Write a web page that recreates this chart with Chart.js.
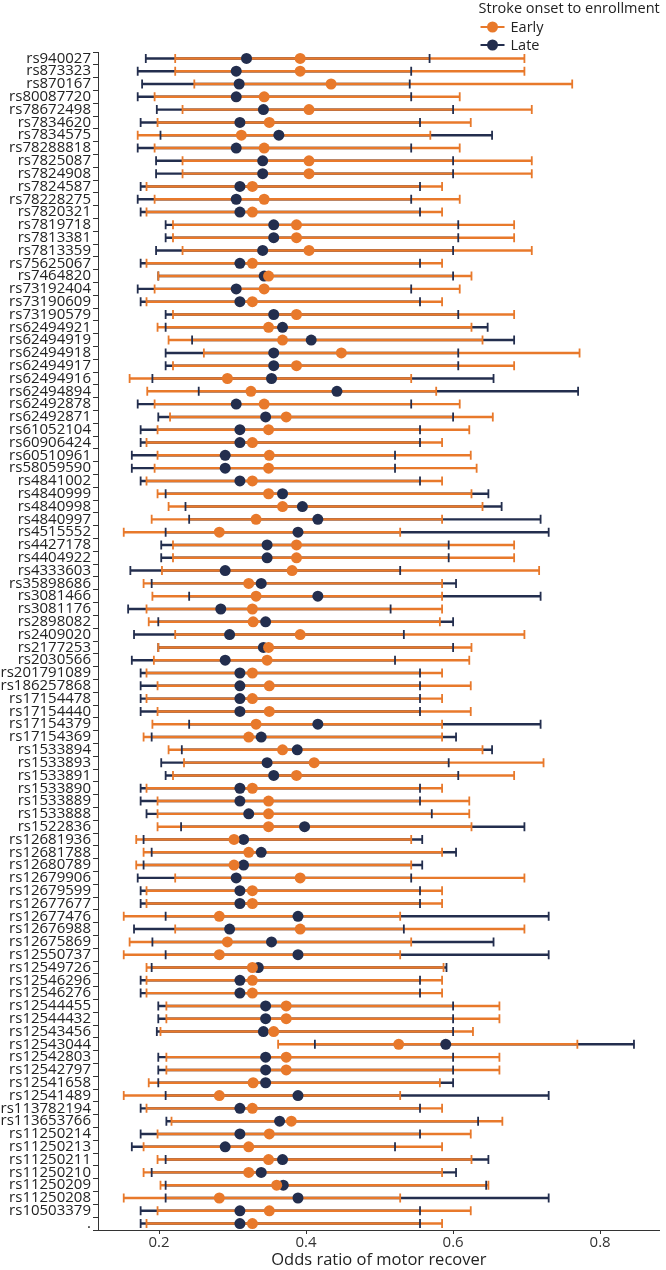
<!DOCTYPE html>
<html>
<head>
<meta charset="utf-8">
<script src="https://cdn.jsdelivr.net/npm/chart.js@4/dist/chart.umd.min.js"></script>
<style>
html,body{margin:0;padding:0;background:#fff;}
#wrap{position:relative;width:666px;height:1270px;}
</style>
</head>
<body>
<div id="wrap"><canvas id="c"></canvas></div>
<script>
const snps = ["rs940027","rs873323","rs870167","rs80087720","rs78672498","rs7834620","rs7834575","rs78288818","rs7825087","rs7824908","rs7824587","rs78228275","rs7820321","rs7819718","rs7813381","rs7813359","rs75625067","rs7464820","rs73192404","rs73190609","rs73190579","rs62494921","rs62494919","rs62494918","rs62494917","rs62494916","rs62494894","rs62492878","rs62492871","rs61052104","rs60906424","rs60510961","rs58059590","rs4841002","rs4840999","rs4840998","rs4840997","rs4515552","rs4427178","rs4404922","rs4333603","rs35898686","rs3081466","rs3081176","rs2898082","rs2409020","rs2177253","rs2030566","rs201791089","rs186257868","rs17154478","rs17154440","rs17154379","rs17154369","rs1533894","rs1533893","rs1533891","rs1533890","rs1533889","rs1533888","rs1522836","rs12681936","rs12681788","rs12680789","rs12679906","rs12679599","rs12677677","rs12677476","rs12676988","rs12675869","rs12550737","rs12549726","rs12546296","rs12546276","rs12544455","rs12544432","rs12543456","rs12543044","rs12542803","rs12542797","rs12541658","rs12541489","rs113782194","rs113653766","rs11250214","rs11250213","rs11250211","rs11250210","rs11250209","rs11250208","rs10503379","."];

const earlyLo = [0.222,0.222,0.248,0.194,0.232,0.198,0.171,0.194,0.232,0.232,0.183,0.194,0.183,0.219,0.219,0.232,0.183,0.199,0.194,0.183,0.219,0.198,0.213,0.261,0.219,0.160,0.184,0.194,0.215,0.198,0.183,0.198,0.194,0.183,0.198,0.213,0.190,0.152,0.219,0.219,0.204,0.179,0.191,0.183,0.186,0.222,0.199,0.193,0.183,0.198,0.183,0.198,0.191,0.179,0.213,0.234,0.219,0.183,0.198,0.198,0.198,0.169,0.179,0.169,0.222,0.183,0.183,0.152,0.222,0.160,0.152,0.183,0.183,0.183,0.210,0.210,0.202,0.362,0.210,0.210,0.186,0.152,0.183,0.217,0.198,0.179,0.198,0.179,0.202,0.152,0.198,0.183];
const earlyOR = [0.392,0.392,0.434,0.343,0.404,0.350,0.312,0.343,0.404,0.404,0.327,0.343,0.327,0.387,0.387,0.404,0.327,0.349,0.343,0.327,0.387,0.349,0.368,0.448,0.387,0.293,0.325,0.343,0.373,0.349,0.327,0.350,0.349,0.327,0.349,0.368,0.332,0.282,0.387,0.387,0.381,0.322,0.332,0.327,0.328,0.392,0.349,0.347,0.327,0.350,0.327,0.350,0.332,0.322,0.368,0.411,0.387,0.327,0.349,0.349,0.349,0.302,0.322,0.302,0.392,0.327,0.327,0.282,0.392,0.293,0.282,0.327,0.327,0.327,0.373,0.373,0.356,0.526,0.373,0.373,0.328,0.282,0.327,0.380,0.350,0.322,0.349,0.322,0.360,0.282,0.350,0.327];
const earlyHi = [0.697,0.697,0.762,0.609,0.707,0.624,0.569,0.609,0.707,0.707,0.585,0.609,0.585,0.683,0.683,0.707,0.585,0.625,0.609,0.585,0.683,0.625,0.640,0.772,0.683,0.543,0.577,0.609,0.654,0.622,0.585,0.624,0.632,0.585,0.625,0.640,0.585,0.528,0.683,0.683,0.717,0.585,0.585,0.585,0.582,0.697,0.625,0.622,0.585,0.624,0.585,0.624,0.585,0.585,0.640,0.723,0.683,0.585,0.622,0.622,0.625,0.543,0.585,0.543,0.697,0.585,0.585,0.528,0.697,0.543,0.528,0.587,0.585,0.585,0.663,0.663,0.627,0.769,0.663,0.663,0.582,0.528,0.585,0.667,0.624,0.585,0.625,0.585,0.648,0.528,0.624,0.585];

const lateLo = [0.182,0.171,0.177,0.171,0.197,0.175,0.202,0.171,0.196,0.196,0.175,0.171,0.175,0.209,0.209,0.196,0.175,0.199,0.171,0.175,0.209,0.209,0.245,0.209,0.209,0.191,0.254,0.171,0.199,0.175,0.175,0.163,0.163,0.175,0.209,0.236,0.241,0.209,0.203,0.203,0.161,0.190,0.241,0.158,0.199,0.166,0.199,0.163,0.175,0.175,0.175,0.175,0.241,0.190,0.231,0.203,0.209,0.175,0.175,0.183,0.230,0.179,0.190,0.179,0.171,0.175,0.175,0.209,0.166,0.191,0.209,0.190,0.175,0.175,0.199,0.199,0.197,0.412,0.199,0.199,0.199,0.209,0.175,0.210,0.175,0.163,0.209,0.190,0.209,0.209,0.175,0.175];
const lateOR = [0.319,0.305,0.309,0.305,0.342,0.310,0.363,0.305,0.341,0.341,0.310,0.305,0.310,0.356,0.356,0.341,0.310,0.343,0.305,0.310,0.356,0.368,0.407,0.356,0.356,0.353,0.442,0.305,0.345,0.310,0.310,0.290,0.290,0.310,0.368,0.395,0.416,0.389,0.347,0.347,0.290,0.339,0.416,0.284,0.345,0.296,0.342,0.290,0.310,0.310,0.310,0.310,0.416,0.339,0.388,0.347,0.356,0.310,0.310,0.322,0.398,0.315,0.339,0.315,0.305,0.310,0.310,0.389,0.296,0.353,0.389,0.335,0.310,0.310,0.345,0.345,0.342,0.590,0.345,0.345,0.345,0.389,0.310,0.364,0.310,0.290,0.368,0.339,0.369,0.389,0.310,0.310];
const lateHi = [0.568,0.543,0.541,0.543,0.600,0.555,0.653,0.543,0.600,0.600,0.555,0.543,0.555,0.607,0.607,0.600,0.555,0.600,0.543,0.555,0.607,0.647,0.683,0.607,0.607,0.655,0.770,0.543,0.600,0.555,0.555,0.521,0.521,0.555,0.648,0.666,0.719,0.730,0.594,0.594,0.528,0.604,0.719,0.515,0.600,0.533,0.600,0.521,0.555,0.555,0.555,0.555,0.719,0.604,0.653,0.594,0.607,0.555,0.555,0.571,0.697,0.558,0.604,0.558,0.543,0.555,0.555,0.730,0.533,0.655,0.730,0.591,0.555,0.555,0.600,0.600,0.600,0.846,0.600,0.600,0.600,0.730,0.555,0.634,0.555,0.521,0.648,0.604,0.645,0.730,0.555,0.555];

const xTicks = [0.2, 0.4, 0.6, 0.8];
const seriesNames = ["Early", "Late"];
const legendTitle = "Stroke onset to enrollment";
const xTitle = "Odds ratio of motor recover";

const ORANGE = "#E8792B";
const NAVY = "#232E4E";
const FONT = "'Open Sans', 'Noto Sans', sans-serif";

const pts = (vals) => vals.map((v, i) => ({x: v, y: snps[i]}));
const caps = (lo, hi) => pts(lo).concat(pts(hi));

const legendPlugin = {
  id: 'topLegend',
  afterDraw(chart) {
    const ctx = chart.ctx;
    const ca = chart.chartArea;
    ctx.save();
    ctx.font = "14.5px " + FONT;
    ctx.fillStyle = "#222";
    ctx.textBaseline = "middle";
    const w = ctx.measureText(legendTitle).width;
    const left = ca.right - w;
    ctx.fillText(legendTitle, left, 9);
    const items = [[seriesNames[0], ORANGE, 27], [seriesNames[1], NAVY, 45]];
    ctx.font = "14.5px " + FONT;
    items.forEach(([name, col, y]) => {
      ctx.strokeStyle = col; ctx.lineWidth = 2;
      ctx.beginPath(); ctx.moveTo(left + 2, y); ctx.lineTo(left + 26, y); ctx.stroke();
      ctx.fillStyle = col;
      ctx.beginPath(); ctx.arc(left + 14, y, 5.5, 0, Math.PI * 2); ctx.fill();
      ctx.fillStyle = "#222";
      ctx.fillText(name, left + 32, y + 1);
    });
    ctx.restore();
  }
};

new Chart(document.getElementById('c'), {
  type: 'bar',
  data: {
    labels: snps,
    datasets: [
      {type: 'bar', label: 'Late CI', data: lateLo.map((v, i) => [v, lateHi[i]]), backgroundColor: NAVY, barThickness: 1.8, grouped: false, order: 6},
      {type: 'bar', label: 'Early CI', data: earlyLo.map((v, i) => [v, earlyHi[i]]), backgroundColor: ORANGE, barThickness: 1.8, grouped: false, order: 5},
      {type: 'scatter', label: 'Late caps', data: caps(lateLo, lateHi), pointStyle: 'line', rotation: 90, pointRadius: 4.5, borderColor: NAVY, borderWidth: 1.8, order: 4},
      {type: 'scatter', label: 'Early caps', data: caps(earlyLo, earlyHi), pointStyle: 'line', rotation: 90, pointRadius: 4.5, borderColor: ORANGE, borderWidth: 1.8, order: 3},
      {type: 'scatter', label: 'Late', data: pts(lateOR), pointStyle: 'circle', pointRadius: 5.5, backgroundColor: NAVY, borderColor: NAVY, borderWidth: 0, order: 2},
      {type: 'scatter', label: 'Early', data: pts(earlyOR), pointStyle: 'circle', pointRadius: 5.5, backgroundColor: ORANGE, borderColor: ORANGE, borderWidth: 0, order: 1}
    ]
  },
  options: {
    indexAxis: 'y',
    responsive: true,
    maintainAspectRatio: false,
    animation: false,
    events: [],
    layout: {padding: {top: 52, right: 5, left: 0, bottom: 0}},
    plugins: {legend: {display: false}, tooltip: {enabled: false}},
    scales: {
      x: {
        type: 'linear', position: 'bottom', min: 0.117, max: 0.881,
        afterBuildTicks: (s) => { s.ticks = xTicks.map(v => ({value: v})); },
        afterFit: (s) => { s.height = 40; },
        ticks: {callback: (v) => Number(v).toFixed(1), color: '#333', font: {family: FONT, size: 15}, padding: 0, maxRotation: 0},
        grid: {display: true, drawOnChartArea: false, drawTicks: true, tickLength: 4, color: '#333', lineWidth: 1},
        border: {display: true, color: '#333', width: 1},
        title: {display: true, text: xTitle, color: '#222', font: {family: FONT, size: 16.5}, padding: {top: 0, bottom: 0}}
      },
      y: {
        type: 'category', position: 'left', offset: true,
        afterFit: (s) => { s.width = 98; },
        ticks: {autoSkip: false, color: '#222', font: {family: FONT, size: 15, lineHeight: 1}, padding: 2},
        grid: {display: true, drawOnChartArea: false, drawTicks: true, tickLength: 5, color: '#333', lineWidth: 1},
        border: {display: true, color: '#333', width: 1}
      }
    }
  },
  plugins: [legendPlugin]
});
</script>
</body>
</html>
